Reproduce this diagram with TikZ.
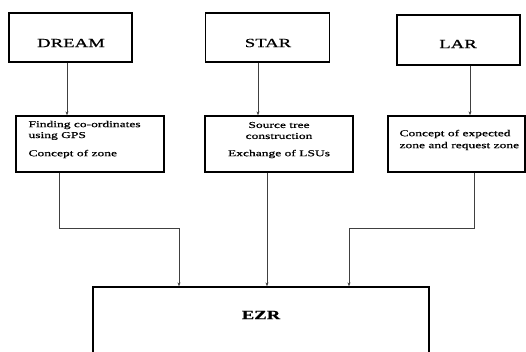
\documentclass[tikz,border=0pt]{standalone}
\usepackage{fontspec}
\setmainfont[FakeStretch=1.5,FakeBold=0.7]{Liberation Serif}
\usetikzlibrary{arrows.meta}
\begin{document}
\begin{tikzpicture}[x=1pt,y=-1pt,
  box/.style={draw=black,line width=1.3pt,rectangle,inner sep=0pt},
  title/.style={font=\fontsize{12.5}{14}\selectfont},
  small/.style={font=\fontsize{9}{10}\selectfont},
  conn/.style={draw=black!75,line width=0.9pt,-{Stealth[length=4pt,width=3pt]}},
  line/.style={draw=black!75,line width=0.9pt}]
\useasboundingbox (0,0) rectangle (526,352);
\clip (0,0) rectangle (526,352);
\fill[white] (0,0) rectangle (526,352);
% top boxes
\node[box,minimum width=123pt,minimum height=49pt] (dream) at (70.5,37.5) {};
\node[title] (dreamt) at (71,43) {DREAM};
\node[box,minimum width=124pt,minimum height=49pt] (star) at (267.5,37.5) {};
\node[title] (start) at (268,43) {STAR};
\node[box,minimum width=123pt,minimum height=50pt] (lar) at (458.5,40) {};
\node[title] (lart) at (458,44) {LAR};
% middle boxes
\node[box,minimum width=148pt,minimum height=56pt] (b1) at (90,144) {};
\node[small,anchor=west] (b1a) at (25,125) {Finding co-ordinates};
\node[small,anchor=west] (b1b) at (25,136) {using GPS};
\node[small,anchor=west] (b1c) at (25,154) {Concept of zone};
\node[box,minimum width=148pt,minimum height=56pt] (b2) at (279,144) {};
\node[small] (b2a) at (279,125) {Source tree};
\node[small] (b2b) at (279,136) {construction};
\node[small] (b2c) at (279,154) {Exchange of LSUs};
\node[box,minimum width=137pt,minimum height=56pt] (b3) at (456.5,144) {};
\node[small,anchor=west] (b3a) at (396,134) {Concept of expected};
\node[small,anchor=west] (b3b) at (396,146) {zone and request zone};
% bottom box
\node[box,minimum width=336pt,minimum height=80pt] (ezr) at (261,327) {};
\node[font=\fontsize{12.5}{14}\selectfont\bfseries] (ezrt) at (261,315) {EZR};
% arrows top -> middle
\draw[conn] ([xshift=-3.5pt]dream.south) -- ([xshift=-3.5pt]dream.south |- b1.north);
\draw[conn] ([xshift=-9.5pt]star.south) -- ([xshift=-9.5pt]star.south |- b2.north);
\draw[conn] ([xshift=11.5pt]lar.south) -- ([xshift=11.5pt]lar.south |- b3.north);
% middle -> bottom
\coordinate (j1) at (179,228);
\coordinate (j3) at (349,228);
\draw[line] ([xshift=-31pt]b1.south) |- (j1);
\draw[conn] (j1) -- (j1 |- ezr.north);
\draw[conn] ([xshift=-12pt]b2.south) -- ([xshift=-12pt]b2.south |- ezr.north);
\draw[line] ([xshift=17.5pt]b3.south) |- (j3);
\draw[conn] (j3) -- (j3 |- ezr.north);
\end{tikzpicture}
\end{document}
